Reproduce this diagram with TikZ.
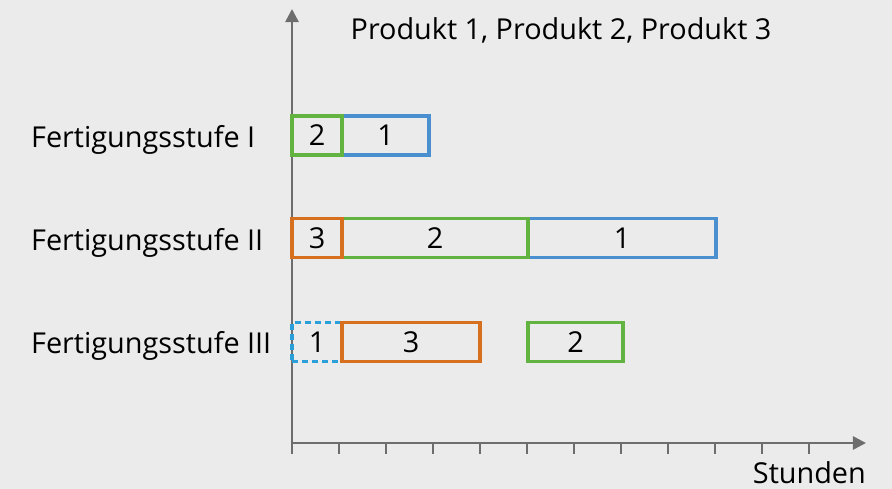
\documentclass[tikz,border=0pt]{standalone}
\usepackage{fontspec}
\setmainfont{Open Sans}
\usepackage{tikz}
\usetikzlibrary{arrows.meta}
\definecolor{bggray}{HTML}{EBEBEB}
\definecolor{axisgray}{HTML}{6D6D6D}
\definecolor{pgreen}{HTML}{62B33F}
\definecolor{pblue}{HTML}{4A8FCF}
\definecolor{porange}{HTML}{D7701E}
\definecolor{pcyan}{HTML}{2B9FD9}

\begin{document}
\begin{tikzpicture}[x=0.02cm, y=-0.02cm,
	every node/.style={font=\fontsize{16.4}{19}\selectfont, text=black},
	axis/.style={draw=axisgray, line width=1.5pt},
	bar/.style={draw=#1, line width=1.8pt, anchor=west, inner sep=0pt, outer sep=0pt, minimum height=0.78cm},
	stufe/.style={anchor=base west}]
\path[use as bounding box, fill=bggray] (0,0) rectangle (892,489);

\coordinate (o) at (292,443);
\coordinate (ybot) at (292,454);
\coordinate (ytop) at (292,9);
\coordinate (xend) at (866,443);
\draw[axis, -{Triangle[length=7.5pt,width=7.5pt]}] (ybot) -- (ytop);
\draw[axis, -{Triangle[length=7.5pt,width=7.5pt]}] (o) -- (xend);
\foreach \k in {0,...,11}
	\draw[axis] (292+47*\k,443) -- (292+47*\k,454);

\node (titel) at (561,30) {Produkt 1, Produkt 2, Produkt 3};
\node[anchor=base east] (stunden) at (872,483) {Stunden};

\node[stufe] (s1) at (25,148) {Fertigungsstufe I};
\node[stufe] (s2) at (25,251) {Fertigungsstufe II};
\node[stufe] (s3) at (25,354) {Fertigungsstufe III};

\node[bar=pblue, minimum width=1.74cm] (I-1) at (342,135.5) {1};
\node[bar=pgreen, minimum width=1cm] (I-2) at (292,135.5) {2};

\node[bar=pblue, minimum width=3.76cm] (II-1) at (528,238) {1};
\node[bar=pgreen, minimum width=3.72cm] (II-2) at (342,238) {2};
\node[bar=porange, minimum width=1cm] (II-3) at (292,238) {3};

\node[bar=pcyan, dash pattern=on 3.4pt off 2.3pt, minimum width=1cm] (III-1) at (292,342) {1};
\node[bar=porange, minimum width=2.76cm] (III-3) at (342,342) {3};
\node[bar=pgreen, minimum width=1.9cm] (III-2) at (528,342) {2};
\end{tikzpicture}
\end{document}
